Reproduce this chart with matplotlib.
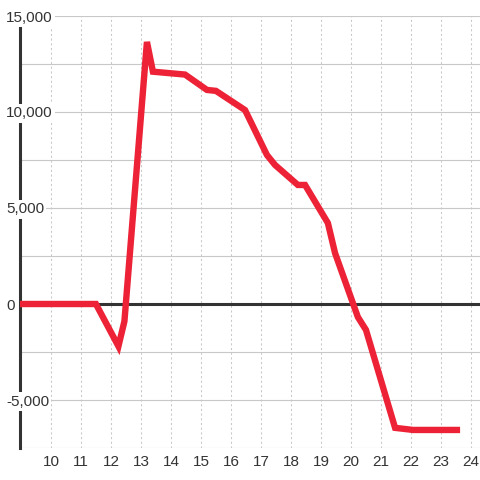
import matplotlib
matplotlib.use("Agg")
import matplotlib.pyplot as plt
import matplotlib.transforms as mtransforms

# Data
x_vals = [9.0, 11.5, 12.25, 12.45, 13.2, 13.4, 14.47, 15.2, 15.5, 16.47, 17.2, 17.47,
          18.23, 18.47, 19.23, 19.47, 20.23, 20.5, 21.47, 22.07, 23.53]
y_vals = [0, 0, -2200, -900, 13650, 12100, 11950, 11150, 11100, 10100, 7760, 7240,
          6200, 6200, 4220, 2650, -680, -1350, -6450, -6560, -6560]

y_ticks = [-5000, 0, 5000, 10000, 15000]
y_tick_labels = ["-5,000", "0", "5,000", "10,000", "15,000"]
y_minor_grid = [-7500, -2500, 2500, 7500, 12500]
x_ticks = list(range(10, 25))
x_tick_labels = [str(v) for v in x_ticks]

plt.rcParams['font.family'] = ['Liberation Sans', 'DejaVu Sans']

fig = plt.figure(figsize=(4.8, 4.8), dpi=100)
ax = fig.add_axes([20/480, 32/480, 460/480, 432/480])
ax.set_xlim(8.97, 24.3)
ax.set_ylim(-7500, 15000)

for s in ['top', 'right', 'bottom']:
    ax.spines[s].set_visible(False)
ax.spines['left'].set_color('#333333')
ax.spines['left'].set_linewidth(2.2)
ax.spines['left'].set_zorder(3)

# gridlines
for v in y_ticks + y_minor_grid:
    ax.axhline(v, color='#c8c8c8', lw=0.8, zorder=1)
for v in x_ticks:
    ax.axvline(v, color='#c8c8c8', lw=0.75, ls=(0, (2, 2.5)), zorder=1)
ax.axhline(0, color='#333333', lw=2.2, zorder=2)

ax.plot(x_vals, y_vals, color='#ED2236', lw=4.6, zorder=4, solid_joinstyle='miter')

ax.set_xticks(x_ticks)
ax.set_xticklabels(x_tick_labels, fontsize=11, color='#333333')
ax.tick_params(axis='x', length=0, pad=5)
ax.set_yticks([])

trans = mtransforms.blended_transform_factory(fig.transFigure, ax.transData)
for v, lab in zip(y_ticks, y_tick_labels):
    ax.text(6/480, v, lab, transform=trans, ha='left', va='center_baseline', fontsize=11,
            color='#333333', zorder=5, clip_on=False,
            bbox=dict(facecolor='white', edgecolor='none', pad=1.5))

fig.savefig("out.png", dpi=100, facecolor='white')
